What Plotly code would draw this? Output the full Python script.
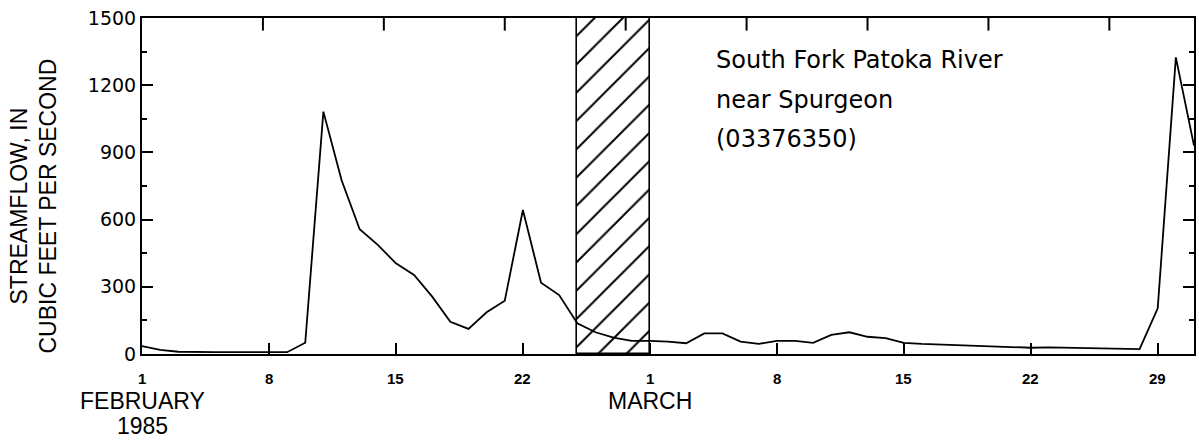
import plotly.graph_objects as go

# Day index: 0 = 1 February 1985 ... 58 = 31 March 1985
days = list(range(59))
streamflow = [
    35, 18, 10, 8, 8, 8, 8, 8, 8, 50,          # Feb 1-10
    1082, 777, 557, 487, 405, 353, 256, 144, 112, 186,  # Feb 11-20
    238, 643, 318, 263, 137, 97, 73, 59,        # Feb 21-28
    59, 55, 48, 92, 92, 55, 45, 59, 59, 50,     # Mar 1-10
    85, 97, 77, 71, 50, 45, 42, 38, 35, 32,     # Mar 11-20
    30, 28, 30, 28, 27, 25, 24, 22, 204, 1324,  # Mar 21-30
    930,                                        # Mar 31
]

# Hatched period (no record): 25 Feb to 1 Mar
gap_start, gap_end = 24, 28
gap_top = 1500

x_tick_vals = [0, 7, 14, 21, 28, 35, 42, 49, 56]
x_tick_text = ["1", "8", "15", "22", "1", "8", "15", "22", "29"]
top_tick_step = 20 / 3
top_tick_vals = [top_tick_step * k for k in range(1, 9)]

y_tick_vals = [0, 300, 600, 900, 1200, 1500]
y_tick_text = ["0", "300", "600", "900", "1200", "1500"]

month_labels = [(0, "FEBRUARY"), (28, "MARCH")]
year_label = (0, "1985")

station_lines = ["South Fork Patoka River", "near Spurgeon", "(03376350)"]

X_RANGE = [0, 58]
Y_RANGE = [0, 1500]

fig = go.Figure()

fig.add_trace(go.Bar(
    x=[(gap_start + gap_end) / 2], y=[gap_top], width=[gap_end - gap_start],
    marker=dict(color="white",
                pattern=dict(shape="/", fgcolor="black", bgcolor="white",
                             fgopacity=1, size=20, solidity=0.1),
                line=dict(color="black", width=1.6)),
    showlegend=False, hoverinfo="skip",
))

fig.add_trace(go.Scatter(
    x=days, y=streamflow, mode="lines",
    line=dict(color="black", width=1.8),
    showlegend=False,
))

# short tick marks hanging from the top frame (clipped to the plot area)
fig.add_trace(go.Scatter(
    x=top_tick_vals, y=[Y_RANGE[1]] * len(top_tick_vals), mode="markers",
    marker=dict(symbol="line-ns", size=18, color="black",
                line=dict(color="black", width=2)),
    cliponaxis=True, showlegend=False, hoverinfo="skip",
))

fig.update_layout(
    width=1199, height=442,
    margin=dict(l=142, r=3, t=18, b=88),
    paper_bgcolor="white", plot_bgcolor="white",
    bargap=0,
    xaxis=dict(
        range=X_RANGE, showgrid=False, zeroline=False,
        showline=True, linecolor="black", linewidth=2, mirror=True,
        tickmode="array", tickvals=x_tick_vals, showticklabels=False,
        ticks="inside", ticklen=11, tickwidth=2, tickcolor="black",
    ),
    yaxis=dict(
        range=Y_RANGE, showgrid=False, zeroline=False,
        showline=True, linecolor="black", linewidth=2, mirror="ticks",
        tickmode="array", tickvals=y_tick_vals, ticktext=y_tick_text,
        ticks="inside", ticklen=11, tickwidth=2, tickcolor="black",
        minor=dict(dtick=150, tick0=0, ticks="inside", ticklen=5,
                   tickwidth=2, tickcolor="black"),
        tickfont=dict(family="DejaVu Sans", size=19, color="black"),
        ticksuffix=" ",
    ),
)

annotations = []
for xv, txt in zip(x_tick_vals, x_tick_text):
    annotations.append(dict(
        text=txt, xref="x", yref="paper", x=xv, y=-(378 - 354) / 336,
        xanchor="center", yanchor="middle", showarrow=False,
        font=dict(family="Liberation Sans, Arial", size=15, color="black",
                  weight="bold"),
    ))
annotations.append(dict(
    text="STREAMFLOW, IN<br>CUBIC FEET PER SECOND",
    xref="paper", yref="paper", x=0, y=0.439, xanchor="center", yanchor="middle",
    xshift=-108, textangle=-90, showarrow=False,
    font=dict(family="Liberation Sans, Arial", size=23, color="black"),
))
for xv, txt in month_labels:
    annotations.append(dict(
        text=txt, xref="x", yref="paper", x=xv, y=-0.14,
        xanchor="center", yanchor="middle", showarrow=False,
        font=dict(family="Liberation Sans, Arial", size=23, color="black"),
    ))
annotations.append(dict(
    text=year_label[1], xref="x", yref="paper", x=year_label[0], y=-0.214,
    xanchor="center", yanchor="middle", showarrow=False,
    font=dict(family="Liberation Sans, Arial", size=23, color="black"),
))
for i, line in enumerate(station_lines):
    annotations.append(dict(
        text=line, xref="paper", yref="paper", x=(715 - 142) / 1054,
        y=(354 - (60 + 39.5 * i)) / 336, xanchor="left", yanchor="middle",
        showarrow=False,
        font=dict(family="DejaVu Sans", size=24, color="black"),
    ))
fig.update_layout(annotations=annotations)

fig.write_html("out.html")
